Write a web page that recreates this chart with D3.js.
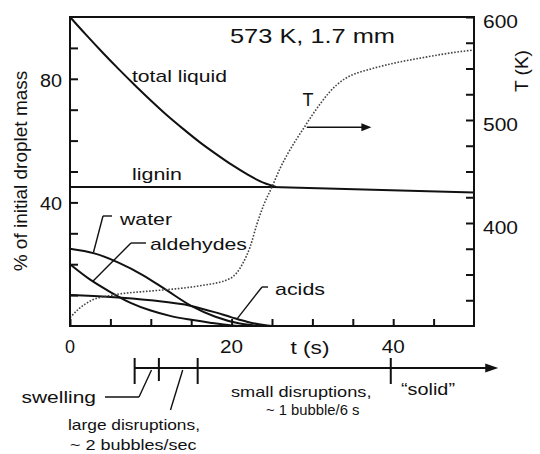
<!DOCTYPE html>
<html>
<head>
<meta charset="utf-8">
<script src="https://cdn.jsdelivr.net/npm/d3@7"></script>
<style>
  html, body { margin: 0; padding: 0; background: #fff; }
  svg text { font-family: "Liberation Sans", Arial, Helvetica, sans-serif; fill: #111; }
</style>
</head>
<body>
<svg id="chart" width="540" height="454"></svg>
<script>
// Droplet composition (% of initial mass) versus time (s)
const totalLiquid = [[0,100],[2,94.2],[4,88.6],[6,83.2],[8,78],[10,73],[12,68.2],[14,63.8],[16,59.6],
                     [18,55.8],[20,52.2],[22,49],[24,46.3],[25.5,45]];
const lignin      = [[0,45],[25,45],[50,43.2]];
const water       = [[0,25],[3,23.5],[6,20.5],[9,16.5],[12,11.5],[15,6.5],[18,3],[21,0.8],[23.5,0]];
const aldehydes   = [[0,20],[2.5,15],[5,11],[7.5,7.5],[10,5],[12.5,3.2],[15,2],[17.5,1],[20,0.2],[21,0]];
const acids       = [[0,10],[5,9.4],[10,8.3],[15,6.5],[18,4.4],[20,2.8],[22,1.3],[24,0.3],[25,0]];
// Droplet temperature (K) versus time (s)
const temperature = [[0,308],[1,316],[2.7,325],[5.3,330],[10,334],[13,336],[16,339],[19.8,346],[21.4,361],
                     [22.3,377],[23.1,398],[24,418],[25,435],[26,453],[27,468],[28,481],[29,493],[30,505],
                     [31,516],[32,526],[33,534],[34,540],[35,544],[37,549],[40,555],[44,561],[47,565],[50,568]];

// Axis ticks
const xMajor = [0, 20, 40];
const xMinor = [5, 10, 15, 25, 30, 35, 45];
const yMajor = [40, 80];
const yMinor = [10, 20, 30, 50, 60, 70, 90];
const tMajor = [400, 500, 600];
const tMinor = [325, 350, 375, 425, 450, 475, 525, 550, 575];

// Event timeline below the chart (s)
const phaseMarks = [8, 11, 15.8, 39.7];
const timelineEnd = 53;

const svg = d3.select("#chart");
const x  = d3.scaleLinear().domain([0, 50]).range([70, 474]);
const y  = d3.scaleLinear().domain([0, 100]).range([326, 17]);
const yT = d3.scaleLinear().domain([300, 600]).range([326, 17]);

// text anchored at (px, py); optional fitted width
function label(str, px, py, size, anchor = "start", width = null) {
  const t = svg.append("text")
    .attr("x", px).attr("y", py)
    .attr("text-anchor", anchor)
    .style("font-size", size + "px")
    .text(str);
  if (width) t.attr("textLength", width).attr("lengthAdjust", "spacingAndGlyphs");
  return t;
}
function seg(x1, y1, x2, y2, w = 1.4) {
  svg.append("line").attr("x1", x1).attr("y1", y1).attr("x2", x2).attr("y2", y2)
    .attr("stroke", "#111").attr("stroke-width", w);
}

// curves
const massLine = d3.line().x(d => x(d[0])).y(d => y(d[1])).curve(d3.curveMonotoneX);
const straight = d3.line().x(d => x(d[0])).y(d => y(d[1]));
const tLine = d3.line().x(d => x(d[0])).y(d => yT(d[1])).curve(d3.curveMonotoneX);

[totalLiquid, water, aldehydes, acids].forEach(s => {
  svg.append("path").attr("d", massLine(s)).attr("fill", "none")
    .attr("stroke", "#111").attr("stroke-width", 2);
});
svg.append("path").attr("d", straight(lignin)).attr("fill", "none")
  .attr("stroke", "#111").attr("stroke-width", 2);
svg.append("path").attr("d", tLine(temperature)).attr("fill", "none")
  .attr("stroke", "#444").attr("stroke-width", 1.6).attr("stroke-dasharray", "1.6,1.6");

// axes (ticks point inward)
const axB = svg.append("g").attr("transform", `translate(0,${y(0)})`)
  .call(d3.axisBottom(x).tickValues(xMajor.concat(xMinor)).tickSize(-7).tickFormat(""));
const axL = svg.append("g").attr("transform", `translate(${x(0)},0)`)
  .call(d3.axisLeft(y).tickValues(yMajor.concat(yMinor)).tickSize(-8).tickFormat(""));
const axR = svg.append("g").attr("transform", `translate(${x(50)},0)`)
  .call(d3.axisRight(yT).tickValues(tMajor.concat(tMinor)).tickSize(-8).tickFormat(""));
[axB, axL, axR].forEach(g => {
  g.select(".domain").remove();
  g.selectAll(".tick line").attr("stroke", "#111").attr("stroke-width", 2);
});
// frame
svg.append("rect").attr("x", x(0)).attr("y", y(100))
  .attr("width", x(50) - x(0)).attr("height", y(0) - y(100))
  .attr("fill", "none").attr("stroke", "#111").attr("stroke-width", 2);

// tick labels
xMajor.forEach(v => label(String(v), x(v), 353, 18, "middle", v === 0 ? null : 23));
yMajor.forEach(v => label(String(v), 62, y(v) + 8, 18, "end", 22));
tMajor.forEach(v => label(String(v), 483, yT(v) + 11, 18, "start", 35));

// axis titles
label("t (s)", 310, 354, 18, "middle", 39);
svg.append("text").attr("transform", "translate(27,171) rotate(-90)")
  .attr("text-anchor", "middle").style("font-size", "19px").text("% of initial droplet mass");
svg.append("text").attr("transform", "translate(528,71) rotate(-90)")
  .attr("text-anchor", "middle").style("font-size", "19px").text("T (K)");

// title
label("573 K, 1.7 mm", 230, 43, 21, "start", 165);

// series labels and leaders
label("total liquid", 132, 82, 17, "start", 95);
label("lignin", 132, 180, 17, "start", 50);
label("water", 120, 225, 17, "start", 52);
label("aldehydes", 150, 250, 17, "start", 97);
label("acids", 275, 295, 17, "start", 50);
label("T", 308, 106, 18, "middle");

seg(112, 216, 103, 216); seg(103, 216, x(2.9), y(23.8));
seg(146, 243, 131, 243); seg(131, 243, x(2.8), y(14.4));
seg(268, 287, 262, 287); seg(262, 287, x(20.7), y(2.4));

// temperature arrow toward right axis
const arrY = yT(493);
seg(x(29.3), arrY, x(36.3), arrY, 1.5);
svg.append("path")
  .attr("d", `M${x(37.3)},${arrY} l-10,-4 l0,8 z`).attr("fill", "#111");

// event timeline
const tlY = 368;
seg(x(phaseMarks[0]), tlY, x(timelineEnd) - 8, tlY, 2);
svg.append("path")
  .attr("d", `M${x(timelineEnd)},${tlY} l-13,-4.5 l0,9 z`).attr("fill", "#111");
phaseMarks.forEach((t, i) => seg(x(t), 358, x(t), i === 1 ? 381 : 384, 2));

label("swelling", 21.5, 403, 17, "start", 74.5);
seg(105, 397, 139, 397); seg(139, 397, 151.5, 370);
label("large disruptions,", 68, 430, 15, "start", 132);
label("~ 2 bubbles/sec", 70, 450, 15, "start", 126.5);
seg(170.5, 410, 182.7, 370);
label("small disruptions,", 231, 397, 15, "start", 140.5);
label("~ 1 bubble/6 s", 266, 415, 15, "start", 93.5);
label("\u201Csolid\u201D", 401, 395, 17, "start", 54);
</script>
</body>
</html>
